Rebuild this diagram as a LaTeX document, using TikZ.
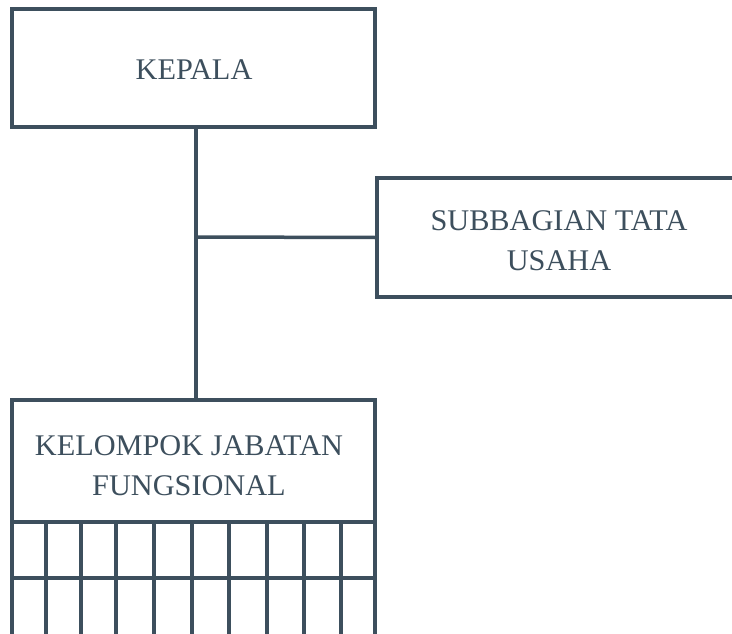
\documentclass[tikz,border=0pt]{standalone}
\usepackage{fontspec}
\setmainfont[FakeStretch=1.01]{Liberation Serif}
\definecolor{ink}{HTML}{3D4F5D}
\begin{document}
\begin{tikzpicture}[x=1pt,y=-1pt,
  frame/.style={draw=ink, line width=3.5pt, inner sep=0pt, outer sep=0pt},
  label/.style={text=ink, align=center, inner sep=0pt, font=\fontsize{30}{40}\selectfont},
  conn/.style={draw=ink, line width=3.5pt},
  grid/.style={draw=ink, line width=4pt}]
\useasboundingbox (0,0) rectangle (732,633);
\fill[white] (0,0) rectangle (732,633);
\clip (0,0) rectangle (732,633);
% KEPALA
\node[frame, minimum width=363pt, minimum height=118pt] (kepala) at (193.5,68) {};
\node[label] (kepalatext) at (194,70) {KEPALA};
% SUBBAGIAN TATA USAHA (right side runs off the page)
\node[frame, minimum width=383pt, minimum height=119pt] (sub) at (568.5,237.5) {};
\node[label] (subtext) at (559,241) {SUBBAGIAN TATA\\USAHA};
% KELOMPOK JABATAN FUNGSIONAL (bottom runs off the page)
\node[frame, minimum width=363pt, minimum height=260pt] (fung) at (193.5,530) {};
\node[label] (fungtext) at (189,466) {KELOMPOK JABATAN\\FUNGSIONAL};
% grid
\coordinate (r1) at (0,522);
\coordinate (r2) at (0,578);
\draw[grid] (fung.west |- r1) -- (fung.east |- r1);
\draw[grid] (fung.west |- r2) -- (fung.east |- r2);
\foreach \x in {46,81,116,154,192,229,267,304,341}
  \draw[grid] (\x,522) -- (\x,650);
% connectors
\coordinate (junction) at (196,237);
\draw[conn] (kepala.south -| junction) -- (fung.north -| junction);
\draw[conn] (junction) -- (sub.west);
\end{tikzpicture}
\end{document}
